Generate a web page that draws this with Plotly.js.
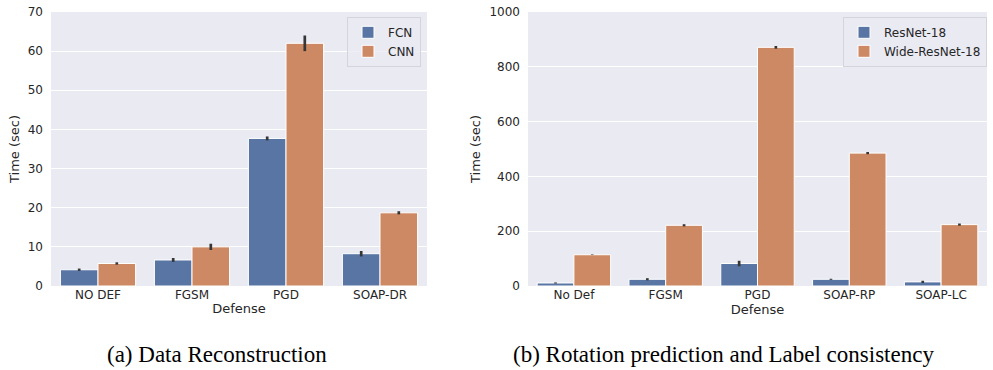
<!DOCTYPE html>
<html><head><meta charset="utf-8">
<script src="https://cdn.plot.ly/plotly-3.0.1.min.js"></script>
<style>html,body{margin:0;padding:0;background:#fff}#c{width:993px;height:370px}</style>
</head><body><div id="c"></div>
<script>
const catsA = ["NO DEF", "FGSM", "PGD", "SOAP-DR"];
const fcn = [4.15, 6.65, 37.7, 8.25];
const fcnErr = [0.3, 0.5, 0.5, 0.7];
const cnn = [5.75, 10.0, 62.0, 18.7];
const cnnErr = [0.3, 0.8, 2.0, 0.4];

const catsB = ["No Def", "FGSM", "PGD", "SOAP-RP", "SOAP-LC"];
const resnet = [11, 24.5, 82, 24.5, 15];
const resnetErr = [2, 4, 10, 2, 4];
const wide = [114, 221.5, 871, 485, 224];
const wideErr = [1, 4, 5, 4, 4];

const blue = "#5875A4", orange = "#CC8963", errC = "#363636";
function bar(x, y, e, name, color, xa, ya, lg){
  return {type:"bar", x:x, y:y, name:name, xaxis:xa, yaxis:ya, legend:lg,
    marker:{color:color, line:{color:"#ffffff", width:1}},
    error_y:{type:"data", array:e, visible:true, color:errC, thickness:2.7, width:0}};
}
const data = [
  bar(catsA, fcn, fcnErr, "FCN", blue, "x", "y", "legend"),
  bar(catsA, cnn, cnnErr, "CNN", orange, "x", "y", "legend"),
  bar(catsB, resnet, resnetErr, "ResNet-18", blue, "x2", "y2", "legend2"),
  bar(catsB, wide, wideErr, "Wide-ResNet-18", orange, "x2", "y2", "legend2")
];
const tickF = {family:"DejaVu Sans", size:12, color:"#262626"};
const titleF = {family:"DejaVu Sans", size:13, color:"#262626"};
const yb = 1-286/370, yt = 1-12/370;
function xax(dom, anchor){
  return {domain:dom, anchor:anchor, showgrid:false, zeroline:false, showline:false, ticks:"",
    tickfont:tickF, title:{text:"Defense", font:titleF, standoff:2}, fixedrange:true};
}
function yax(dom, anchor, range, dtick){
  return {domain:dom, anchor:anchor, range:range, dtick:dtick, showgrid:true, gridcolor:"#ffffff", gridwidth:1.2,
    zeroline:false, showline:false, ticks:"", tickfont:tickF, ticklabelstandoff:7,
    title:{text:"Time (sec)", font:titleF, standoff:5}};
}
const legendStyle = (x) => ({x:x, y:yt-0.013, xanchor:"right", yanchor:"top", bgcolor:"rgba(234,234,242,0.8)",
  bordercolor:"#d4d4dc", borderwidth:1, font:{family:"DejaVu Sans", size:12, color:"#262626"},
  tracegroupgap:0, itemwidth:30});
const layout = {
  width:993, height:370, margin:{l:0, r:0, t:0, b:0},
  paper_bgcolor:"#ffffff", plot_bgcolor:"#EAEAF2",
  barmode:"group", bargap:0.2, bargroupgap:0,
  xaxis: xax([51/993, 427/993], "y"),
  yaxis: yax([yb, yt], "x", [0, 70], 10),
  xaxis2: xax([528/993, 987/993], "y2"),
  yaxis2: yax([yb, yt], "x2", [0, 1000], 200),
  legend: legendStyle(421/993),
  legend2: legendStyle(987/993),
  showlegend:true,
  annotations:[
    {text:"(a) Data Reconstruction", xref:"paper", yref:"paper", x:217/993, y:1-354/370, xanchor:"center", yanchor:"middle",
     showarrow:false, font:{family:"Liberation Serif", size:23, color:"#000"}},
    {text:"(b) Rotation prediction and Label consistency", xref:"paper", yref:"paper", x:723/993, y:1-354/370, xanchor:"center", yanchor:"middle",
     showarrow:false, font:{family:"Liberation Serif", size:23, color:"#000"}}
  ]
};
Plotly.newPlot("c", data, layout, {displayModeBar:false, staticPlot:true});
</script></body></html>
